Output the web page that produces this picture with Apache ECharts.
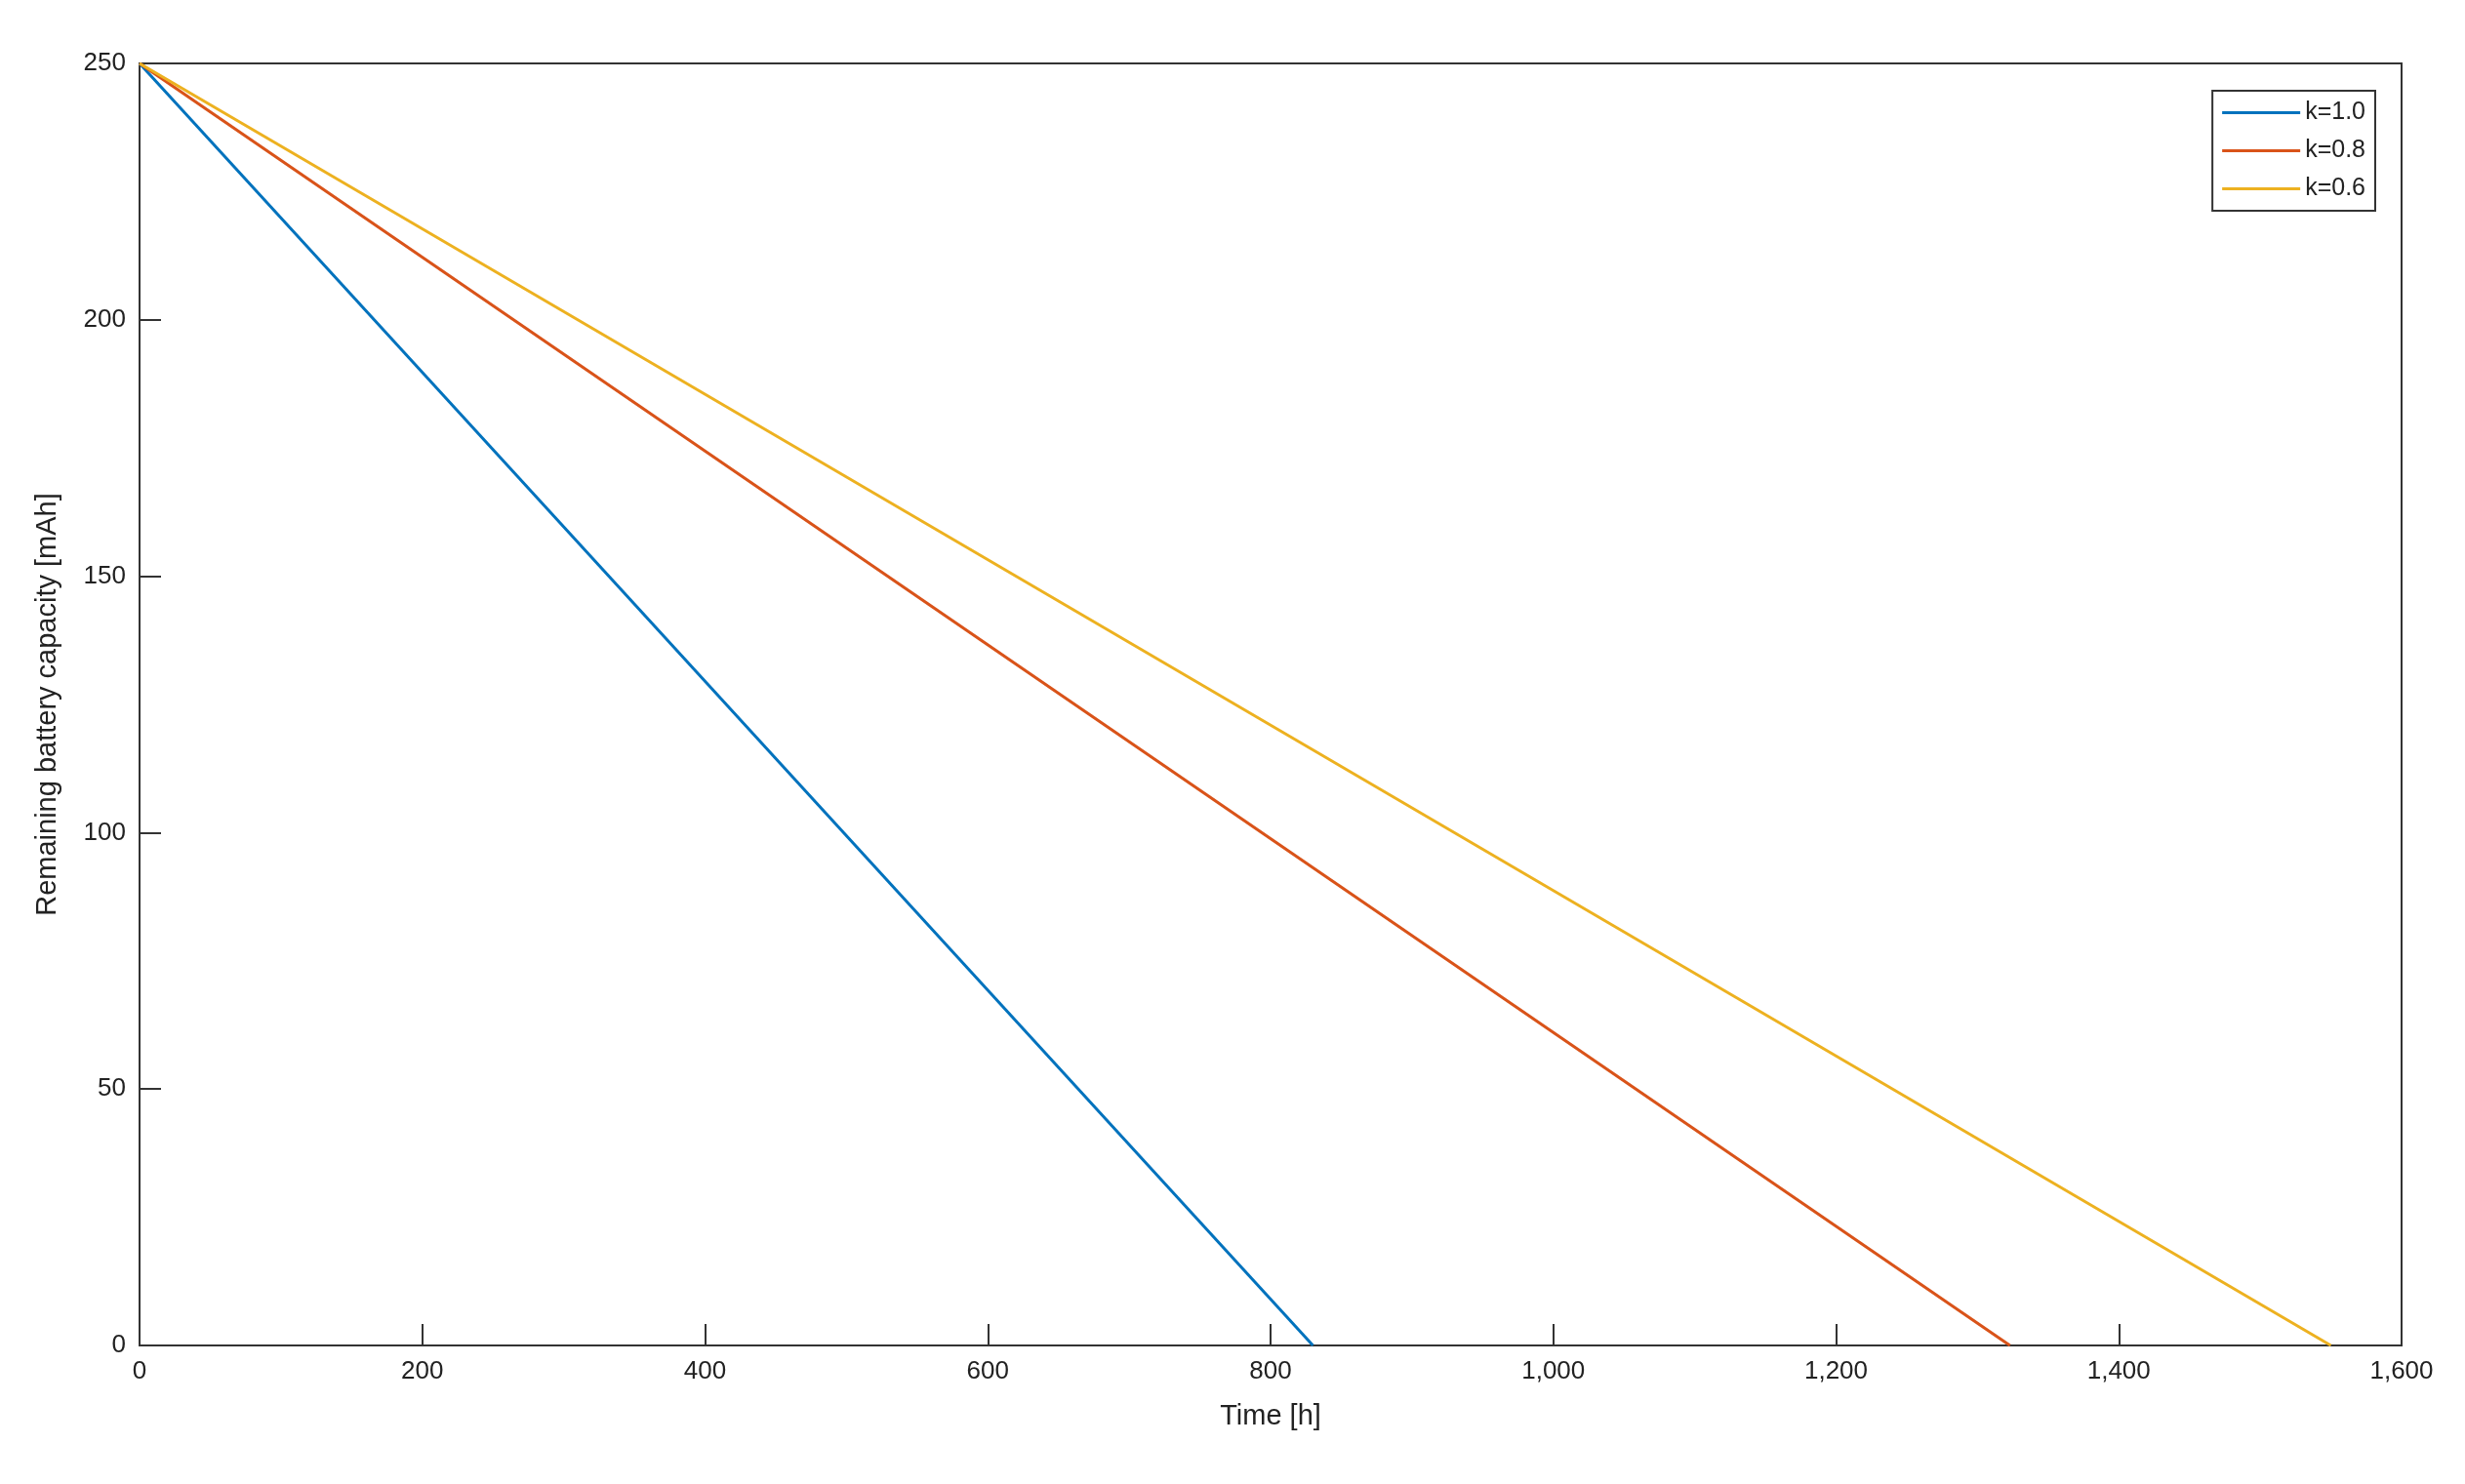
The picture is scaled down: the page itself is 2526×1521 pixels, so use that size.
<!DOCTYPE html>
<html><head><meta charset="utf-8">
<script src="https://cdn.jsdelivr.net/npm/echarts@6/dist/echarts.min.js"></script>
<style>html,body{margin:0;background:#fff}#c{width:2526px;height:1521px}</style>
</head><body><div id="c"></div>
<script>
const seriesNames = ['k=1.0','k=0.8','k=0.6'];
const colors = ['#0072BD','#D95319','#EDB120'];
const k10 = [[0,250],[830,0]];
const k08 = [[0,250],[1323,0]];
const k06 = [[0,250],[1550,0]];
const data = [k10,k08,k06];
const chart = echarts.init(document.getElementById('c'));
const font = 'Liberation Sans';
chart.setOption({
  animation:false,
  backgroundColor:'#fff',
  grid:{left:143,right:65,top:65,bottom:142,show:true,borderColor:'#333',borderWidth:2},
  legend:{right:92,top:93,orient:'vertical',itemWidth:80,itemHeight:3,itemGap:14,
    borderColor:'#333',borderWidth:2,padding:[10,10,10,10],backgroundColor:'#fff',
    textStyle:{fontFamily:font,fontSize:25,color:'#222'},icon:'rect',data:seriesNames},
  xAxis:{type:'value',min:0,max:1600,interval:200,name:'Time [h]',nameLocation:'middle',nameGap:58,
    nameTextStyle:{fontFamily:font,fontSize:29,color:'#222'},
    axisLine:{lineStyle:{color:'#333',width:2}},axisTick:{inside:true,length:22,lineStyle:{color:'#333',width:2}},
    axisLabel:{fontFamily:font,fontSize:26,color:'#222',margin:14},splitLine:{show:false}},
  yAxis:{type:'value',min:0,max:250,interval:50,name:'Remaining battery capacity [mAh]',nameLocation:'middle',nameGap:80,
    nameTextStyle:{fontFamily:font,fontSize:29,color:'#222'},
    axisLine:{lineStyle:{color:'#333',width:2}},axisTick:{inside:true,length:22,lineStyle:{color:'#333',width:2}},
    axisLabel:{fontFamily:font,fontSize:26,color:'#222',margin:14},splitLine:{show:false}},
  series:seriesNames.map((n,i)=>({name:n,type:'line',data:data[i],showSymbol:false,
    lineStyle:{color:colors[i],width:3},itemStyle:{color:colors[i]}}))
});
</script></body></html>
